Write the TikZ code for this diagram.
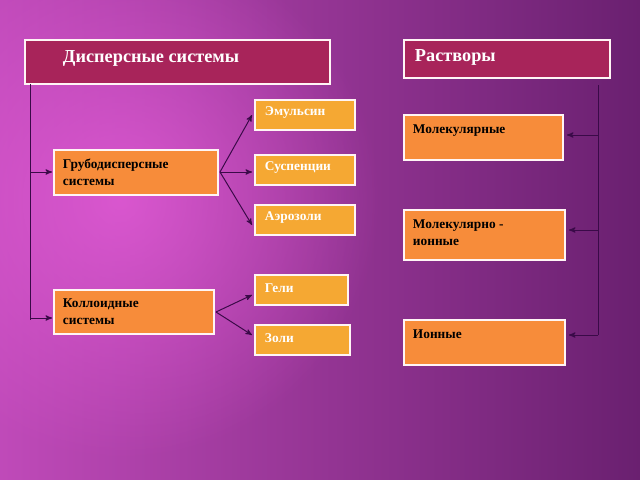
\documentclass[tikz,border=0pt]{standalone}
\usepackage{fontspec}
\setmainfont{Liberation Serif}
\usetikzlibrary{arrows,calc,fadings}
\tikzset{>=stealth'}
\definecolor{bgDark}{HTML}{6A2070}
\definecolor{bgPink}{HTML}{E45CD8}
\definecolor{headRed}{HTML}{A8245A}
\definecolor{boxOrange}{HTML}{F78C3A}
\definecolor{boxYellow}{HTML}{F5A833}
\definecolor{lineDark}{HTML}{3A0A48}
\tikzfading[name=glow, inner color=transparent!0, outer color=transparent!100]
\tikzset{
  headbox/.style={draw=white!85!pink, line width=0.8pt, fill=headRed},
  orbox/.style={draw=white!85!pink, line width=0.8pt, fill=boxOrange},
  yebox/.style={draw=white!85!pink, line width=0.8pt, fill=boxYellow},
  link/.style={lineDark, line width=0.7pt},
}
\begin{document}
\begin{tikzpicture}[x=0.025cm, y=-0.025cm]
    \useasboundingbox (0,0) rectangle (640,480);
    \clip (0,0) rectangle (640,480);
    % background
    \shade[left color=bgPink!70!bgDark, right color=bgDark] (0,0) rectangle (640,480);
    \fill[bgPink, path fading=glow, opacity=0.8] (120,200) circle (260);

    % headers
    \draw[headbox] (25,40) rectangle (330,84);
    \node[anchor=west, white, font=\bfseries\fontsize{13}{15}\selectfont] (disp) at (58,58) {Дисперсные системы};
    \draw[headbox] (404,40) rectangle (610,78);
    \node[anchor=west, white, font=\bfseries\fontsize{13}{15}\selectfont] (rast) at (410,57) {Растворы};

    % left column
    \draw[orbox] (54,150) rectangle (218,195);
    \node[anchor=north west, align=left, font=\bfseries\fontsize{9.5}{12}\selectfont] (grub) at (58,154) {Грубодисперсные\\системы};
    \draw[orbox] (54,290) rectangle (214,334);
    \node[anchor=north west, align=left, font=\bfseries\fontsize{9.5}{12}\selectfont] (koll) at (58,294) {Коллоидные\\системы};

    % middle column
    \foreach \name/\txt/\ya/\xb in {emul/Эмульсин/100/355, susp/Суспенции/155/355, aero/Аэрозоли/205/355, geli/Гели/275/348, zoli/Золи/325/350}{
      \draw[yebox] (255,\ya) rectangle (\xb,\ya+30);
      \node[anchor=west, white, font=\bfseries\fontsize{9.5}{12}\selectfont] (\name) at (260,\ya+13) {\txt};
    }

    % right column
    \draw[orbox] (404,115) rectangle (563,160);
    \node[anchor=north west, font=\bfseries\fontsize{9.5}{12}\selectfont] (molek) at (408,120) {Молекулярные};
    \draw[orbox] (404,210) rectangle (565,260);
    \node[anchor=north west, align=left, font=\bfseries\fontsize{9.5}{12}\selectfont] (molion) at (408,215) {Молекулярно -\\ионные};
    \draw[orbox] (404,320) rectangle (565,365);
    \node[anchor=north west, font=\bfseries\fontsize{9.5}{12}\selectfont] (ion) at (408,325) {Ионные};

    % connectors
    \draw[link] (30,84) -- (30,320);
    \draw[link, ->] (30,172) -- (52,172);
    \draw[link, ->] (30,318) -- (52,318);
    \draw[link, ->] (220,172) -- (252,115);
    \draw[link, ->] (220,172) -- (252,172);
    \draw[link, ->] (220,172) -- (252,225);
    \draw[link, ->] (216,312) -- (252,295);
    \draw[link, ->] (216,312) -- (252,335);
    \draw[link] (598,85) -- (598,335);
    \draw[link, ->] (598,135) -- (567,135);
    \draw[link, ->] (598,230) -- (569,230);
    \draw[link, ->] (598,335) -- (569,335);
\end{tikzpicture}
\end{document}
